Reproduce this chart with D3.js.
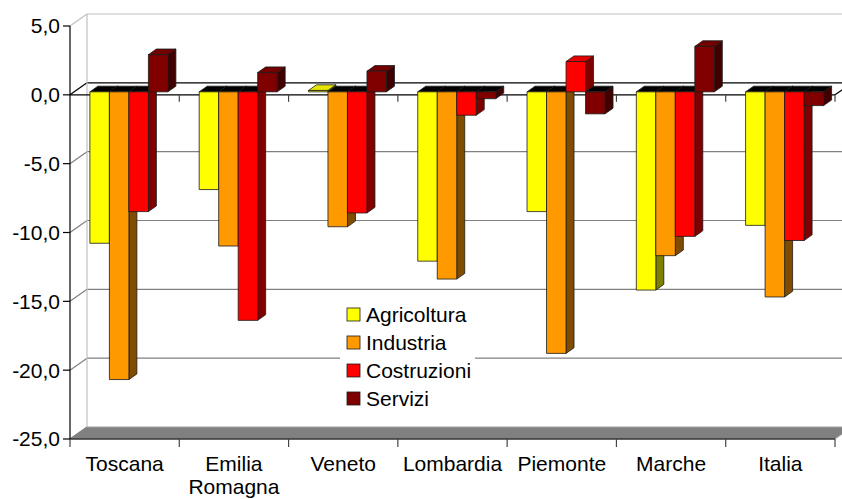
<!DOCTYPE html>
<html>
<head>
<meta charset="utf-8">
<script src="https://cdn.jsdelivr.net/npm/d3@7"></script>
<style>
  body { margin: 0; background: #fff; }
  svg { display: block; font-family: "Liberation Sans", Arial, sans-serif; }
</style>
</head>
<body>
<div id="chart"></div>
<script>
'use strict';

var regions = ["Toscana", "Emilia Romagna", "Veneto", "Lombardia", "Piemonte", "Marche", "Italia"];
var sectors = ["Agricoltura", "Industria", "Costruzioni", "Servizi"];
var agricoltura = [-11.0, -7.1, 0.1, -12.3, -8.7, -14.4, -9.7];
var industria   = [-20.9, -11.2, -9.8, -13.6, -19.0, -11.9, -14.9];
var costruzioni = [-8.7, -16.6, -8.8, -1.7, 2.2, -10.5, -10.8];
var servizi     = [2.7, 1.4, 1.5, -0.5, -1.6, 3.3, -1.0];
var yTicks = [-25, -20, -15, -10, -5, 0, 5];

var fills = ["#ffff00", "#ff9900", "#ff0000", "#800000"];
var sides = ["#808000", "#804c00", "#800000", "#400000"];

var W = 842, H = 499;
var depthX = 17, depthY = -12;   // offset of the back wall
var barFront = 0.25, barBack = 0.72;   // where the bars sit in the depth

var svg = d3.select("#chart").append("svg")
  .attr("width", W)
  .attr("height", H);

var x = d3.scaleBand().domain(regions).range([70, 835]);
var xInner = d3.scaleBand().domain(sectors).range([0, 78]);
var y = d3.scaleLinear().domain([-25, 5]).range([439, 26]);
var fmt = d3.formatLocale({decimal: ",", thousands: ".", grouping: [3], currency: ["", ""], minus: "-"}).format(".1f");

function pts(a) {
  return a.map(function (p) { return p[0] + "," + p[1]; }).join(" ");
}

function draw_walls() {
  var xl = x.range()[0], xr = x.range()[1];

  // floor
  svg.append("polygon")
    .attr("points", pts([[xl, y(-25)], [xl + depthX, y(-25) + depthY], [xr + depthX, y(-25) + depthY], [xr, y(-25)]]))
    .attr("fill", "#808080")
    .attr("stroke", "#a0a0a0")
    .attr("stroke-width", 1);

  // back wall grid lines + left wall diagonals
  yTicks.forEach(function (t) {
    var col = t === 5 ? "#c0c0c0" : (t === 0 ? "#000" : "#808080");
    if (t > -25) {
      svg.append("line")
        .attr("x1", xl + depthX).attr("x2", W + 20)
        .attr("y1", y(t) + depthY).attr("y2", y(t) + depthY)
        .attr("stroke", col).attr("stroke-width", 1.2);
    }
    svg.append("line")
      .attr("x1", xl).attr("x2", xl + depthX)
      .attr("y1", y(t)).attr("y2", y(t) + depthY)
      .attr("stroke", col).attr("stroke-width", 1.2);
  });

  // back wall left edge
  svg.append("line")
    .attr("x1", xl + depthX).attr("x2", xl + depthX)
    .attr("y1", y(5) + depthY).attr("y2", y(-25) + depthY)
    .attr("stroke", "#c0c0c0").attr("stroke-width", 1.2);

  // zero line at the front with its ticks
  svg.append("line")
    .attr("x1", xl).attr("x2", xr)
    .attr("y1", y(0)).attr("y2", y(0))
    .attr("stroke", "#000").attr("stroke-width", 1.2);
  svg.append("line")
    .attr("x1", xr).attr("x2", xr + depthX)
    .attr("y1", y(0)).attr("y2", y(0) + depthY)
    .attr("stroke", "#000").attr("stroke-width", 1.2);

  var bounds = regions.map(function (r) { return x(r); }).concat([xr]);
  bounds.slice(1).forEach(function (b) {
    svg.append("line")
      .attr("x1", b).attr("x2", b)
      .attr("y1", y(0)).attr("y2", y(0) + 7)
      .attr("stroke", "#444").attr("stroke-width", 1.2);
  });

  // bottom axis
  svg.append("line")
    .attr("x1", xl).attr("x2", xr)
    .attr("y1", y(-25)).attr("y2", y(-25))
    .attr("stroke", "#000").attr("stroke-width", 1.2);
  bounds.forEach(function (b) {
    svg.append("line")
      .attr("x1", b).attr("x2", b)
      .attr("y1", y(-25)).attr("y2", y(-25) + 8)
      .attr("stroke", "#444").attr("stroke-width", 1.2);
  });

  // left axis
  svg.append("line")
    .attr("x1", xl).attr("x2", xl)
    .attr("y1", y(5)).attr("y2", y(-25))
    .attr("stroke", "#000").attr("stroke-width", 1.2);
  yTicks.forEach(function (t) {
    svg.append("line")
      .attr("x1", xl - 7).attr("x2", xl)
      .attr("y1", y(t)).attr("y2", y(t))
      .attr("stroke", "#000").attr("stroke-width", 1.2);
    svg.append("text")
      .attr("x", xl - 10)
      .attr("y", y(t))
      .attr("dy", "0.35em")
      .attr("text-anchor", "end")
      .attr("font-size", 21)
      .attr("fill", "#000")
      .text(fmt(t));
  });

  // category labels
  regions.forEach(function (r) {
    var words = r.split(" ");
    var t = svg.append("text")
      .attr("x", x(r) + x.bandwidth() / 2)
      .attr("y", 471)
      .attr("text-anchor", "middle")
      .attr("font-size", 21)
      .attr("fill", "#000");
    words.forEach(function (w, k) {
      t.append("tspan")
        .attr("x", x(r) + x.bandwidth() / 2)
        .attr("dy", k === 0 ? 0 : 23)
        .text(w);
    });
  });
}

function draw_bars() {
  var series = [agricoltura, industria, costruzioni, servizi];
  var fdx = depthX * barFront, fdy = depthY * barFront;
  var sdx = depthX * (barBack - barFront), sdy = depthY * (barBack - barFront);
  var pad = (x.bandwidth() - xInner.range()[1]) / 2;

  regions.forEach(function (r, i) {
    sectors.forEach(function (s, k) {
      var v = series[k][i];
      var bw = xInner.bandwidth();
      var xl = x(r) + pad + xInner(s) + fdx;
      var yz = y(0) + fdy, yv = y(v) + fdy;
      var ya = Math.min(yz, yv), yb = Math.max(yz, yv);
      var topCol = v >= 0 ? d3.color(fills[k]).darker(0.3).formatHex() : "#000";

      var g = svg.append("g")
        .attr("stroke", "#1a1a1a")
        .attr("stroke-width", 0.8)
        .attr("stroke-linejoin", "round");
      g.append("polygon")
        .attr("points", pts([[xl + bw, ya], [xl + bw + sdx, ya + sdy], [xl + bw + sdx, yb + sdy], [xl + bw, yb]]))
        .attr("fill", sides[k]);
      g.append("polygon")
        .attr("points", pts([[xl, ya], [xl + sdx, ya + sdy], [xl + bw + sdx, ya + sdy], [xl + bw, ya]]))
        .attr("fill", topCol);
      g.append("rect")
        .attr("x", xl)
        .attr("y", ya)
        .attr("width", bw)
        .attr("height", yb - ya)
        .attr("fill", fills[k]);
    });
  });
}

function draw_legend() {
  var lx = 340, ly = 296;
  svg.append("rect")
    .attr("x", lx).attr("y", ly)
    .attr("width", 135).attr("height", 114)
    .attr("fill", "#fff");
  sectors.forEach(function (s, k) {
    var cy = 314.5 + k * 28;
    svg.append("rect")
      .attr("x", 347).attr("y", cy - 6.5)
      .attr("width", 13).attr("height", 13)
      .attr("fill", fills[k])
      .attr("stroke", "#1a1a1a").attr("stroke-width", 0.8);
    svg.append("text")
      .attr("x", 366).attr("y", cy)
      .attr("dy", "0.35em")
      .attr("font-size", 21)
      .attr("fill", "#000")
      .text(s);
  });
}

draw_walls();
draw_bars();
draw_legend();
</script>
</body>
</html>
